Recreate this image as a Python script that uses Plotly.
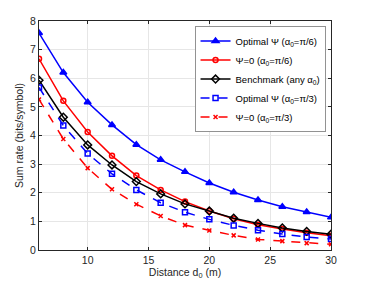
import plotly.graph_objects as go

distance = [6, 8, 10, 12, 14, 16, 18, 20, 22, 24, 26, 28, 30]
opt_pi6 = [7.58, 6.20, 5.16, 4.37, 3.68, 3.15, 2.73, 2.34, 2.02, 1.75, 1.51, 1.33, 1.14]
zero_pi6 = [6.68, 5.21, 4.12, 3.29, 2.60, 2.10, 1.69, 1.36, 1.09, 0.88, 0.73, 0.60, 0.50]
bench = [5.93, 4.64, 3.67, 2.97, 2.39, 1.96, 1.61, 1.36, 1.11, 0.93, 0.77, 0.65, 0.55]
opt_pi3 = [5.68, 4.35, 3.37, 2.66, 2.10, 1.65, 1.32, 1.07, 0.86, 0.69, 0.56, 0.45, 0.38]
zero_pi3 = [5.26, 3.88, 2.86, 2.12, 1.60, 1.19, 0.87, 0.68, 0.51, 0.37, 0.31, 0.24, 0.20]

x_ticks = [10, 15, 20, 25, 30]
y_ticks = [0, 1, 2, 3, 4, 5, 6, 7, 8]

series = [
    ("Optimal Ψ (α<sub>0</sub>=π/6)", opt_pi6, "blue", "solid", "triangle-up", 6),
    ("Ψ=0 (α<sub>0</sub>=π/6)", zero_pi6, "red", "solid", "circle-open", 5),
    ("Benchmark (any α<sub>0</sub>)", bench, "black", "solid", "diamond-open", 6),
    ("Optimal Ψ (α<sub>0</sub>=π/3)", opt_pi3, "blue", "dash", "square-open", 5),
    ("Ψ=0 (α<sub>0</sub>=π/3)", zero_pi3, "red", "dash", "x-thin-open", 4),
]

fig = go.Figure()
for name, vals, col, dash, sym, sz in series:
    fig.add_trace(go.Scatter(
        x=distance, y=vals, name=name, mode="lines+markers",
        line=dict(color=col, width=1.5, dash=dash),
        marker=dict(symbol=sym, size=sz, color=col, line=dict(color=col, width=1.5)),
    ))

axis_common = dict(
    showline=True, linecolor="#262626", linewidth=1, mirror="ticks",
    ticks="inside", ticklen=3, tickcolor="#262626",
    showgrid=True, gridcolor="#e6e6e6", gridwidth=1, zeroline=False,
    tickfont=dict(size=10.5, color="#262626"), automargin=False,
)

fig.update_layout(
    width=359, height=274,
    margin=dict(l=31, r=36, t=13, b=32),
    paper_bgcolor="white", plot_bgcolor="white",
    font=dict(family="Liberation Sans, Arial, sans-serif", size=10, color="#262626"),
    xaxis=dict(range=[6, 30], tickvals=x_ticks,
               title=dict(text="Distance d<sub>0</sub> (m)", font=dict(size=10.5), standoff=2),
               **axis_common),
    yaxis=dict(range=[0, 8], tickvals=y_ticks,
               title=dict(text="Sum rate (bits/symbol)", font=dict(size=10.5), standoff=4),
               **axis_common),
    legend=dict(x=0.983, y=0.978, xanchor="right", yanchor="top",
                bgcolor="white", bordercolor="#262626", borderwidth=0.5,
                font=dict(size=9.5, color="black"), tracegroupgap=0,
                itemwidth=30),
    showlegend=True,
)

fig.write_html("out.html")
